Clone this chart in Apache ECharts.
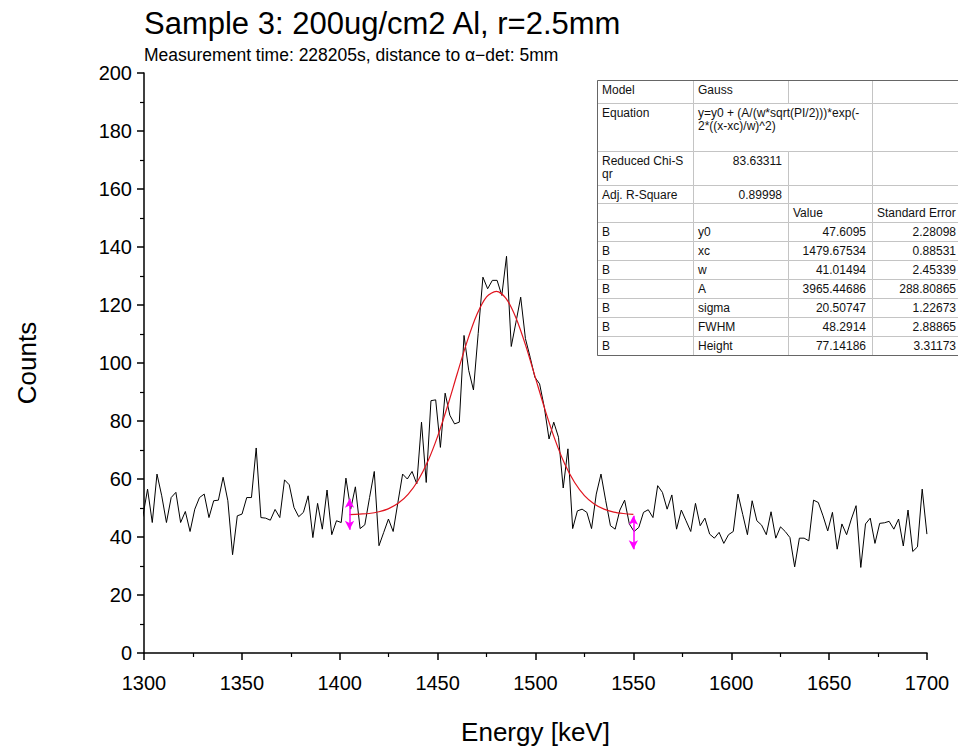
<!DOCTYPE html>
<html>
<head>
<meta charset="utf-8">
<title>Sample 3</title>
<script src="https://cdn.jsdelivr.net/npm/echarts/dist/echarts.min.js"></script>
<style>
  html, body { margin: 0; padding: 0; background: #fff; }
  #main { width: 958px; height: 749px; }
</style>
</head>
<body>
<div id="main"></div>
<script>
// spectrum: channel calibration + counts
var energyStart = 1299.4;
var energyStep = 2.413;
var counts = [
  47.0, 56.5, 45.0, 61.7, 54.2, 45.0, 53.6, 55.4, 45.0, 48.8,
  41.9, 49.6, 53.6, 54.8, 46.7, 52.5, 52.7, 60.6, 52.5, 33.9,
  47.3, 47.9, 53.6, 53.6, 70.7, 46.7, 46.5, 45.8, 49.5, 46.7,
  59.7, 58.0, 50.2, 47.0, 48.5, 54.2, 39.8, 51.6, 42.7, 56.2,
  40.8, 45.6, 45.0, 60.3, 49.6, 57.3, 42.9, 44.2, 53.6, 62.6,
  37.0, 41.6, 46.2, 41.9, 51.9, 61.7, 60.0, 62.6, 58.3, 79.6,
  58.8, 87.0, 87.3, 70.9, 89.6, 82.0, 79.0, 79.6, 109.5, 97.4,
  90.7, 110.2, 129.6, 125.6, 128.5, 128.5, 123.3, 136.8, 105.7, 114.1,
  122.7, 108.4, 102.0, 95.1, 92.8, 84.7, 73.8, 79.6, 74.4, 56.9,
  70.4, 42.9, 49.0, 49.6, 48.5, 42.9, 54.8, 61.7, 52.5, 43.9,
  42.7, 49.3, 52.7, 44.5, 41.9, 43.3, 48.5, 49.4, 46.7, 57.7,
  55.4, 49.6, 54.5, 42.7, 49.3, 45.6, 41.9, 51.6, 43.9, 46.5,
  41.0, 39.6, 41.6, 37.8, 40.8, 41.9, 54.8, 47.8, 40.8, 52.5,
  45.6, 44.1, 40.8, 48.7, 39.6, 43.5, 41.9, 39.8, 29.7, 39.6,
  39.6, 38.7, 52.7, 51.9, 47.3, 42.1, 48.5, 35.8, 44.5, 40.8,
  46.2, 50.8, 29.5, 44.5, 46.5, 37.8, 44.7, 44.9, 45.4, 42.7,
  46.2, 36.9, 49.3, 35.0, 36.6, 56.5, 41.0
];

// gauss fit curve, read at 5 keV steps
var fitEnergy = [1405, 1410, 1415, 1420, 1425, 1430, 1435, 1440, 1445, 1450,
  1455, 1460, 1465, 1470, 1475, 1480, 1485, 1490, 1495, 1500,
  1505, 1510, 1515, 1520, 1525, 1530, 1535, 1540, 1545, 1550];
var fitCounts = [47.7, 47.9, 48.1, 48.7, 49.8, 51.7, 54.8, 59.5, 66.1, 74.7,
  85.0, 96.3, 107.3, 116.6, 122.8, 124.7, 122.2, 115.6, 106.0, 94.8,
  83.6, 73.5, 65.1, 58.8, 54.3, 51.4, 49.6, 48.6, 48.1, 47.8];

// data selector markers (range ends)
var markerEnergy = [1405, 1550];
var markerLow = [42.5, 35.8];
var markerHigh = [53.2, 47.3];

// axis ticks
var xTicks = [1300, 1700, 50];
var yTicks = [0, 200, 20];

// fit result table
var tableRows = [
  ['Model', 'Gauss', '', ''],
  ['Equation', 'y=y0 + (A/(w*sqrt(PI/2)))*exp(-\n2*((x-xc)/w)^2)', '', ''],
  ['Reduced Chi-S\nqr', '83.63311', '', ''],
  ['Adj. R-Square', '0.89998', '', ''],
  ['', '', 'Value', 'Standard Error'],
  ['B', 'y0', '47.6095', '2.28098'],
  ['B', 'xc', '1479.67534', '0.88531'],
  ['B', 'w', '41.01494', '2.45339'],
  ['B', 'A', '3965.44686', '288.80865'],
  ['B', 'sigma', '20.50747', '1.22673'],
  ['B', 'FWHM', '48.2914', '2.88865'],
  ['B', 'Height', '77.14186', '3.31173']
];

var FONT = "'Liberation Sans', Arial, sans-serif";

function buildTable() {
  var colX = [597, 693, 788, 872, 966];
  var rowY = [80, 103, 151, 185, 203, 222, 241, 260, 279, 298, 317, 336, 355];
  var els = [];
  for (var r = 0; r < tableRows.length; r++) {
    for (var c = 0; c < 4; c++) {
      // equation text spans col 1 and 2
      if (r == 1 && c == 2) continue;
      var x0 = colX[c];
      var x1 = (r == 1 && c == 1) ? colX[3] : colX[c + 1];
      els.push({
        type: 'rect',
        shape: { x: x0 + 0.5, y: rowY[r] + 0.5, width: x1 - x0, height: rowY[r + 1] - rowY[r] },
        style: { fill: '#fff', stroke: '#c4c4c4', lineWidth: 1 }
      });
      var txt = tableRows[r][c];
      if (!txt) continue;
      var isNum = /^[0-9.]+$/.test(txt);
      // last column runs past the picture edge, keep its numbers inside
      var right = (c == 3) ? 956 : x1 - 6;
      els.push({
        type: 'text',
        x: isNum ? right : x0 + 5,
        y: rowY[r] + 3,
        style: {
          text: txt,
          font: '12px ' + FONT,
          fill: '#111',
          align: isNum ? 'right' : 'left',
          verticalAlign: 'top',
          lineHeight: 13
        }
      });
    }
  }
  els.push({
    type: 'rect',
    shape: { x: colX[0] + 0.5, y: rowY[0] + 0.5, width: colX[4] - colX[0], height: rowY[12] - rowY[0] },
    style: { fill: 'none', stroke: '#666', lineWidth: 1 }
  });
  return { type: 'group', children: els };
}

function drawChart() {
  var myChart = echarts.init(document.getElementById('main'), null, { renderer: 'svg' });

  var specData = [];
  for (var i = 0; i < counts.length; i++) {
    specData.push([energyStart + i * energyStep, counts[i]]);
  }
  var fitData = [];
  for (var j = 0; j < fitEnergy.length; j++) {
    fitData.push([fitEnergy[j], fitCounts[j]]);
  }
  var markers = [];
  for (var k = 0; k < markerEnergy.length; k++) {
    markers.push([{ coord: [markerEnergy[k], markerLow[k]] }, { coord: [markerEnergy[k], markerHigh[k]] }]);
  }

  var axisText = { color: '#000', fontSize: 20, fontFamily: FONT, formatter: function (v) { return String(v); } };

  var option = {
    backgroundColor: '#fff',
    animation: false,
    title: {
      text: 'Sample 3: 200ug/cm2 Al, r=2.5mm',
      subtext: 'Measurement time: 228205s, distance to α−det: 5mm',
      left: 144,
      top: 8,
      itemGap: 7,
      padding: 0,
      textStyle: { color: '#000', fontSize: 31, fontWeight: 'normal', fontFamily: FONT },
      subtextStyle: { color: '#000', fontSize: 17.5, fontFamily: FONT }
    },
    grid: { left: 144, right: 31, top: 73, bottom: 96, containLabel: false, outerBoundsMode: 'none' },
    xAxis: {
      type: 'value',
      min: xTicks[0], max: xTicks[1], interval: xTicks[2],
      name: 'Energy [keV]',
      nameLocation: 'middle',
      nameGap: 66,
      nameTextStyle: { color: '#000', fontSize: 26, fontFamily: FONT },
      axisLine: { show: true, onZero: false, lineStyle: { color: '#000', width: 1.5 } },
      axisTick: { show: true, inside: false, length: 7, lineStyle: { color: '#000', width: 1.5 } },
      minorTick: { show: true, splitNumber: 2, length: 4, lineStyle: { color: '#000', width: 1.2 } },
      axisLabel: Object.assign({ margin: 20 }, axisText),
      splitLine: { show: false },
      minorSplitLine: { show: false }
    },
    yAxis: {
      type: 'value',
      min: yTicks[0], max: yTicks[1], interval: yTicks[2],
      name: 'Counts',
      nameLocation: 'middle',
      nameRotate: 90,
      nameGap: 104,
      nameTextStyle: { color: '#000', fontSize: 26, fontFamily: FONT },
      axisLine: { show: true, onZero: false, lineStyle: { color: '#000', width: 1.5 } },
      axisTick: { show: true, inside: false, length: 7, lineStyle: { color: '#000', width: 1.5 } },
      minorTick: { show: true, splitNumber: 2, length: 4, lineStyle: { color: '#000', width: 1.2 } },
      axisLabel: Object.assign({ margin: 12 }, axisText),
      splitLine: { show: false },
      minorSplitLine: { show: false }
    },
    series: [
      {
        name: 'Counts',
        type: 'line',
        data: specData,
        symbol: 'none',
        clip: true,
        lineStyle: { color: '#000', width: 1 },
        z: 2
      },
      {
        name: 'Gauss fit',
        type: 'line',
        data: fitData,
        symbol: 'none',
        smooth: 0.3,
        lineStyle: { color: '#e0141e', width: 1.2 },
        z: 3,
        markLine: {
          silent: true,
          symbol: ['arrow', 'arrow'],
          symbolSize: [7, 9],
          label: { show: false },
          lineStyle: { color: '#ff00ff', width: 1.5, type: 'solid' },
          data: markers
        }
      }
    ],
    graphic: [buildTable()]
  };
  myChart.setOption(option);
}

drawChart();
</script>
</body>
</html>
